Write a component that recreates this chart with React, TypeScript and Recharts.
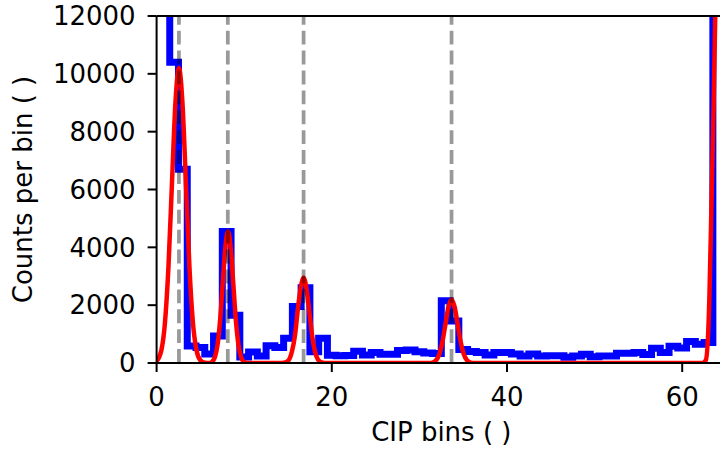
import { ComposedChart, Line, ReferenceLine, XAxis, YAxis } from "recharts";

// histogram: one count per CIP bin, bins centred on integers starting at 1
const firstBin = 1;
const binCounts = [
  14000, 10400, 6700, 590, 540, 310, 935, 4550, 1650, 210, 380, 240, 600, 540,
  855, 1950, 2600, 390, 855, 270, 250, 260, 410, 280, 360, 300, 300, 430, 450,
  390, 350, 330, 2150, 1450, 470, 400, 360, 280, 360, 360, 310, 245, 310, 245,
  255, 250, 200, 245, 300, 220, 245, 245, 335, 335, 360, 295, 510, 365, 580,
  520, 740, 650, 710, 14000,
];

// red fit curve
const fitX = [
  0, 0.55, 0.95, 1.35, 1.75, 2.15, 2.55, 2.95, 3.35, 3.75, 4.15, 4.55, 4.95,
  5.35, 5.8, 6.0, 6.35, 6.65, 6.95, 7.25, 7.55, 7.85, 8.15, 8.45, 8.75, 9.05,
  9.35, 9.65, 9.95, 10.4, 14.3, 14.8, 15.15, 15.45, 15.8, 16.1, 16.45, 16.78,
  17.1, 17.43, 17.75, 18.08, 18.4, 18.75, 19.2, 31.1, 31.57, 31.92, 32.27,
  32.62, 32.97, 33.32, 33.67, 34.02, 34.37, 34.72, 35.07, 35.42, 35.77, 36.2,
  62.3, 62.7, 63.1, 63.35, 63.6, 63.8, 64.0, 64.2,
];
const fitY = [
  60, 450, 1380, 3310, 6190, 9000, 10200, 9000, 6190, 3310, 1380, 450, 110,
  20, 0, 0, 50, 200, 615, 1480, 2760, 4015, 4550, 4015, 2760, 1480, 615, 200,
  50, 0, 0, 33, 130, 400, 960, 1790, 2600, 2950, 2600, 1790, 960, 400, 130,
  33, 0, 0, 24, 97, 300, 715, 1335, 1940, 2200, 1940, 1335, 715, 300, 97, 24,
  0, 0, 100, 2200, 5600, 9100, 12500, 16000, 20000,
];

const peakPositions = [2.55, 8.13, 16.78, 33.67];
const xTicks = [0, 20, 40, 60];
const yTicks = [0, 2000, 4000, 6000, 8000, 10000, 12000];

const histData = binCounts.map((count, i) => ({ x: firstBin + i, count }));
const fitData = fitX.map((x, i) => ({ x, fit: fitY[i] }));

const font = "DejaVu Sans";
const tickStyle = { fontSize: 26, fontFamily: font, fill: "#000" };
const axisStyle = { stroke: "#000", strokeWidth: 2 };

const yLabel = (props: any) => {
  const vb = props.viewBox || { y: 16, height: 347 };
  const cy = vb.y + vb.height / 2;
  return (
    <text
      x={32}
      y={cy}
      transform={`rotate(-90, 32, ${cy})`}
      textAnchor="middle"
      fontSize={26}
      fontFamily={font}
      fill="#000"
    >
      Counts per bin ( )
    </text>
  );
};

const xLabel = (props: any) => {
  const vb = props.viewBox || { x: 156.6, width: 569.4 };
  return (
    <text
      x={vb.x + vb.width / 2}
      y={441}
      textAnchor="middle"
      fontSize={26}
      fontFamily={font}
      fill="#000"
    >
      CIP bins ( )
    </text>
  );
};

export default function App() {
  return (
    <div
      style={{
        position: "absolute",
        left: 0,
        top: 0,
        width: 720,
        height: 450,
        overflow: "hidden",
        background: "#fff",
      }}
    >
      <ComposedChart
        width={726}
        height={450}
        margin={{ top: 16, right: 0, bottom: 0, left: 0 }}
      >
        <Line
          data={histData}
          dataKey="count"
          type="step"
          stroke="#0000ff"
          strokeWidth={7}
          dot={false}
          isAnimationActive={false}
        />
        <Line
          data={fitData}
          dataKey="fit"
          type="monotone"
          stroke="#ff0000"
          strokeWidth={4.5}
          dot={false}
          isAnimationActive={false}
        />
        {peakPositions.map((p) => (
          <ReferenceLine
            key={p}
            x={p}
            stroke="#000"
            strokeOpacity={0.4}
            strokeWidth={3.75}
            strokeDasharray="13.9 6"
          />
        ))}
        <ReferenceLine y={12000} stroke="#000" strokeWidth={2} />
        <XAxis
          type="number"
          dataKey="x"
          domain={[0, 65]}
          ticks={xTicks}
          allowDataOverflow
          height={87}
          tickSize={9}
          tickMargin={16}
          tick={tickStyle}
          axisLine={axisStyle}
          tickLine={axisStyle}
          label={xLabel}
        />
        <YAxis
          type="number"
          domain={[0, 12000]}
          ticks={yTicks}
          allowDataOverflow
          width={156.6}
          tickSize={9}
          tickMargin={12}
          tick={tickStyle}
          axisLine={axisStyle}
          tickLine={axisStyle}
          label={yLabel}
        />
      </ComposedChart>
    </div>
  );
}
